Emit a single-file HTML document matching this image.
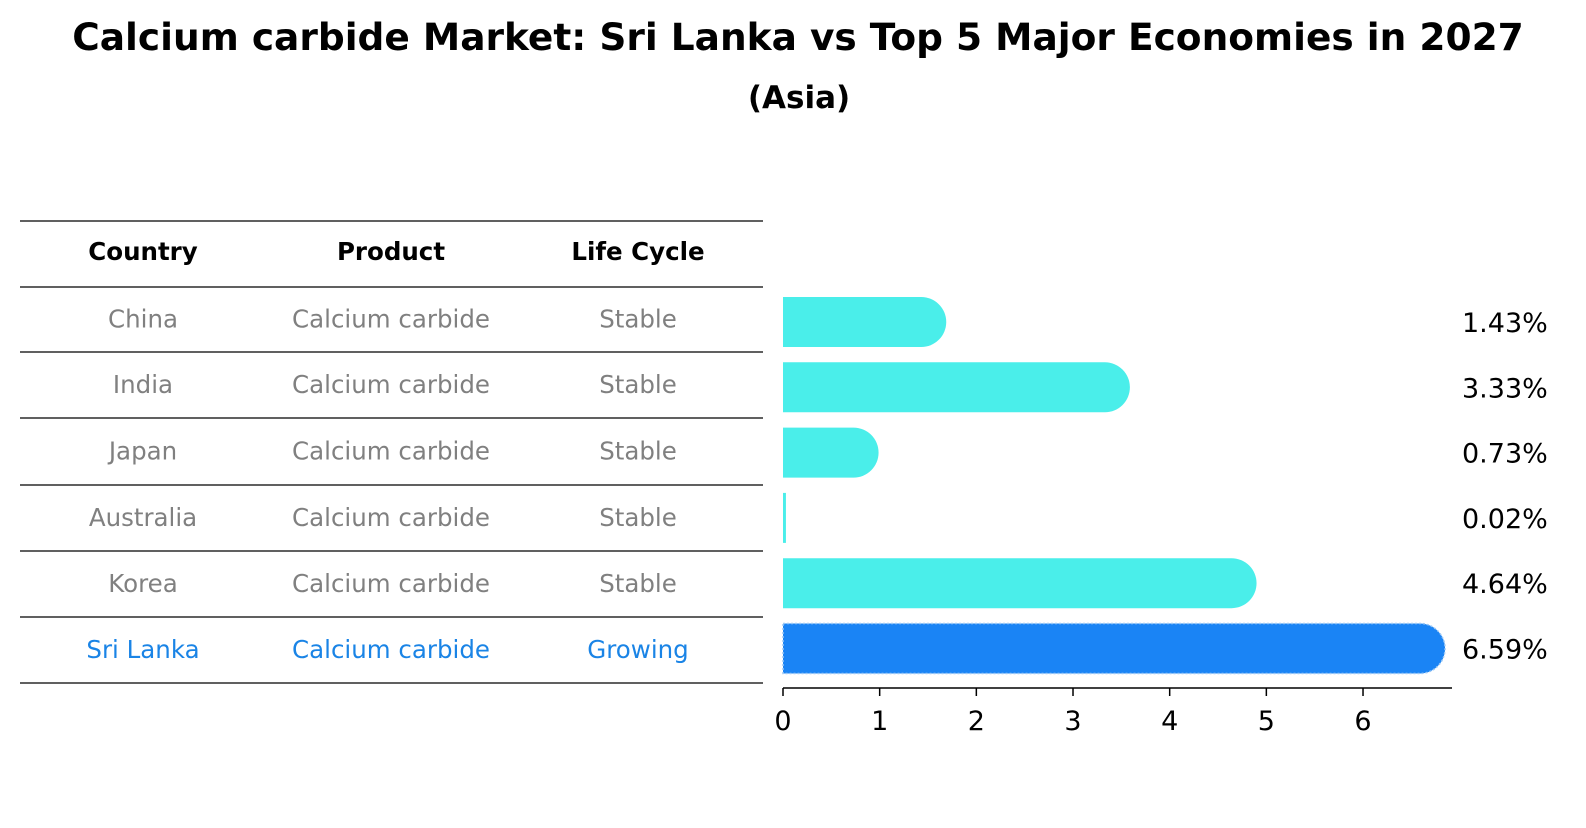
<!DOCTYPE html>
<html><head><meta charset="utf-8"><style>
body{margin:0;background:#fff;}
svg text{font-family:"DejaVu Sans","Liberation Sans",sans-serif;}
</style></head><body>
<svg width="1586" height="823" xmlns="http://www.w3.org/2000/svg">
<text x="798" y="50" text-anchor="middle" font-size="37.5" font-weight="bold">Calcium carbide Market: Sri Lanka vs Top 5 Major Economies in 2027</text>
<text x="799" y="108" text-anchor="middle" font-size="31" font-weight="bold">(Asia)</text>
<g id="table"></g>
<g id="bars"></g>
<g id="axis"></g>
</svg>
<script>
const countries=["China","India","Japan","Australia","Korea","Sri Lanka"];
const products=["Calcium carbide","Calcium carbide","Calcium carbide","Calcium carbide","Calcium carbide","Calcium carbide"];
const lifeCycles=["Stable","Stable","Stable","Stable","Stable","Growing"];
const values=[1.43,3.33,0.73,0.02,4.64,6.59];
const valueLabels=["1.43%","3.33%","0.73%","0.02%","4.64%","6.59%"];
const ticks=[0,1,2,3,4,5,6];
const NS="http://www.w3.org/2000/svg";
function mk(t,a,p){const e=document.createElementNS(NS,t);for(const k in a)e.setAttribute(k,a[k]);p.appendChild(e);return e;}
const x=v=>783+v*96.67;
const rowY=i=>322+i*65.3;
const tbl=document.getElementById('table');
const lines=[221,287,352,418,485,551,617,683];
lines.forEach(y=>{const l=mk('line',{x1:20,x2:763,y1:y,y2:y,stroke:'#000','stroke-width':1.2},tbl);

});
const cx=[143,391,638];
["Country","Product","Life Cycle"].forEach((h,j)=>{const t=mk('text',{x:cx[j],y:260,'text-anchor':'middle','font-size':24.5,'font-weight':'bold'},tbl);t.textContent=h;

});
countries.forEach((c,i)=>{const col=i===5?'#1a84e6':'#808080';const y=(lines[i+1]+lines[i+2])/2+8;
[c,products[i],lifeCycles[i]].forEach((s,j)=>{const t=mk('text',{x:cx[j],y:y,'text-anchor':'middle','font-size':24.5,fill:col},tbl);t.textContent=s;

});});
const bars=document.getElementById('bars');
values.forEach((v,i)=>{const cy=rowY(i),h=50,x0=x(0),x1=x(v);const col=i===5?'#1a84f5':'#4aeeea';
let d;
if(v<0.1){d=`M${x0} ${cy-h/2}H${x1+1}V${cy+h/2}H${x0}Z`;}
else{d=`M${x0} ${cy-h/2}H${x1}A25 25 0 0 1 ${x1} ${cy+h/2}H${x0}Z`;}
const p=mk('path',{d:d,fill:col},bars);
if(i===5){p.setAttribute('stroke','#9cc8f5');p.setAttribute('stroke-width','1.5');p.setAttribute('stroke-dasharray','2 2');}


const t=mk('text',{x:1462,y:cy+10,'font-size':27},bars);t.textContent=valueLabels[i];

});
const ax=document.getElementById('axis');
const al=mk('line',{x1:783,x2:1452,y1:688,y2:688,stroke:'#000','stroke-width':1.6},ax);


ticks.forEach(tv=>{const l=mk('line',{x1:x(tv),x2:x(tv),y1:688,y2:696,stroke:'#000','stroke-width':1.5},ax);


const t=mk('text',{x:x(tv),y:730,'text-anchor':'middle','font-size':27},ax);t.textContent=tv;

});
</script>
</body></html>
